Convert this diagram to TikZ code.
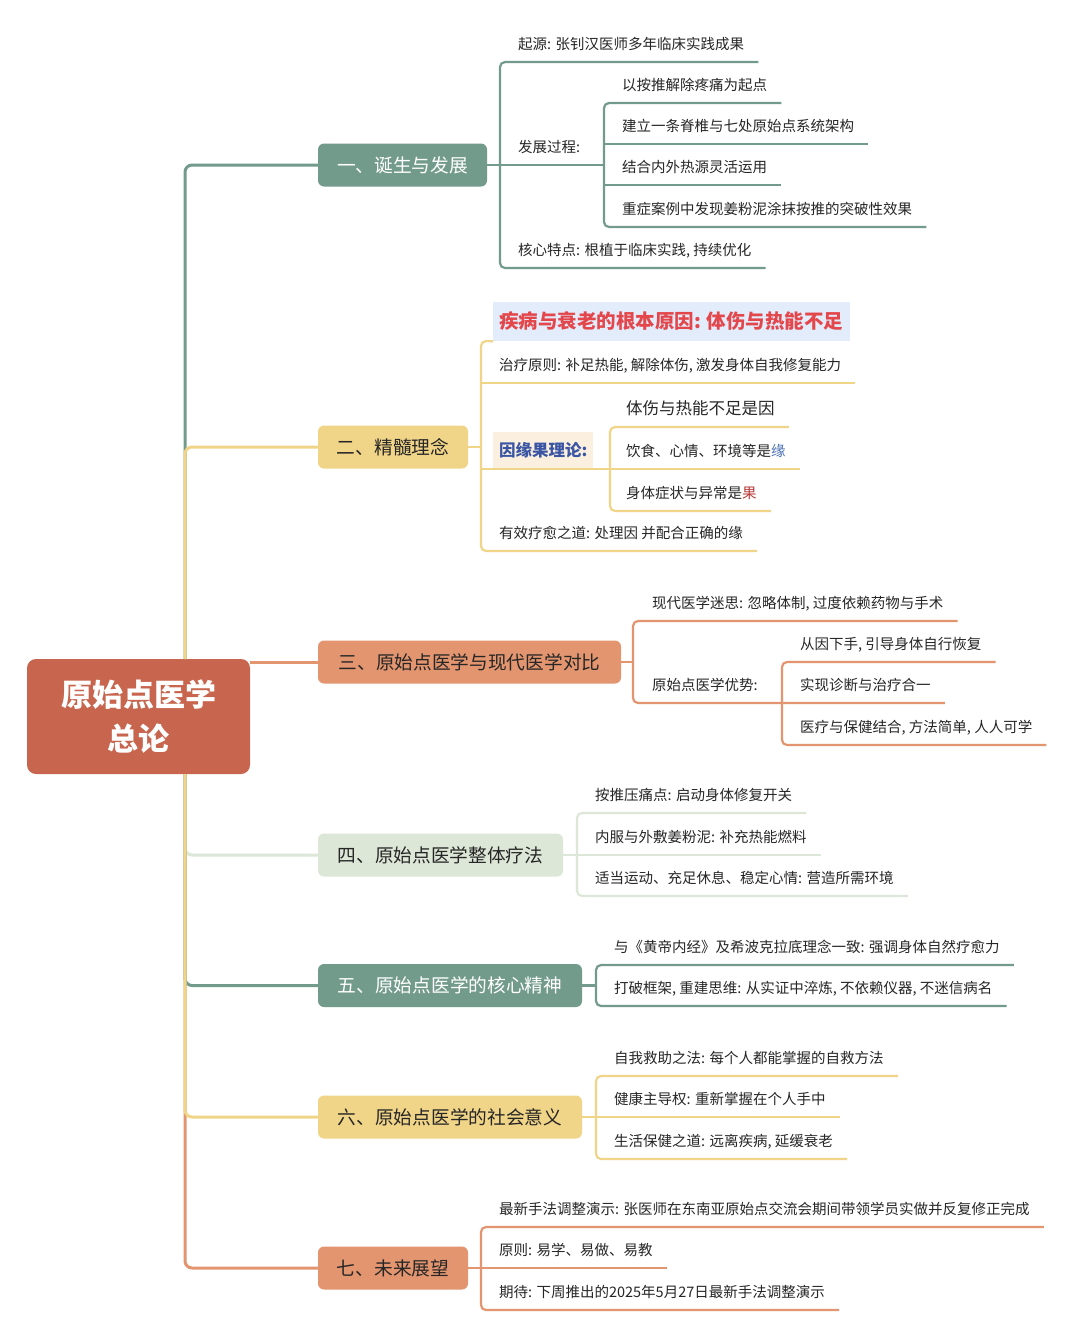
\documentclass[tikz,border=0pt]{standalone}
\usepackage{fontspec}
\setmainfont{Noto Sans CJK SC}
\usetikzlibrary{calc}
\definecolor{cgreen}{HTML}{739B8C}
\definecolor{cyellow}{HTML}{F0D488}
\definecolor{corange}{HTML}{E3956F}
\definecolor{clgreen}{HTML}{DDE7D7}
\definecolor{croot}{HTML}{C8654E}
\definecolor{hlblue}{HTML}{E2ECFB}
\definecolor{hlred}{HTML}{E4474B}
\definecolor{cream}{HTML}{FBF0DF}
\definecolor{yblue}{HTML}{3A55A4}
\definecolor{kblue}{HTML}{4A6FB5}
\definecolor{kred}{HTML}{B83A3A}
\definecolor{ink}{HTML}{262626}
\begin{document}
\begin{tikzpicture}[x=1pt,y=-1pt,
  txt/.style={anchor=west, inner sep=0pt, text height=12pt, text depth=1pt, font=\fontsize{14.5}{17}\selectfont, text=ink},
  bigtxt/.style={anchor=west, inner sep=0pt, text height=13.7pt, text depth=1.2pt, font=\fontsize{16.5}{19}\selectfont, text=ink},
  topic/.style={rounded corners=6pt, minimum height=43pt, inner sep=0pt, text height=15.5pt, text depth=1.3pt, font=\fontsize{18.7}{21}\selectfont, text=ink},
  ln/.style={line width=2.2pt},
  br/.style={line width=2.2pt, rounded corners=5pt},
  trunk/.style={line width=3pt, rounded corners=7pt},
]
\useasboundingbox (0,0) rectangle (1080,1336);
\fill[white] (0,0) rectangle (1080,1336);

% ---------- root and topics ----------
\node[fill=croot, rounded corners=9pt, minimum width=223pt, minimum height=115pt, inner sep=0pt, align=center, text=white, font=\fontsize{31}{44}\selectfont\bfseries] (root) at (138.5,716.5) {原始点医学\\总论};

\node[topic, fill=cgreen, text=white, minimum width=169pt] (t1) at (402.5,165) {一、诞生与发展};
\node[topic, fill=cyellow, minimum width=150pt] (t2) at (393,447) {二、精髓理念};
\node[topic, fill=corange, minimum width=303pt] (t3) at (469.5,662) {三、原始点医学与现代医学对比};
\node[topic, fill=clgreen, minimum width=245pt] (t4) at (440.5,855) {四、原始点医学整体疗法};
\node[topic, fill=cgreen, text=white, minimum width=264pt] (t5) at (450,985.5) {五、原始点医学的核心精神};
\node[topic, fill=cyellow, minimum width=264pt] (t6) at (450,1117) {六、原始点医学的社会意义};
\node[topic, fill=corange, minimum width=150pt] (t7) at (393,1268) {七、未来展望};

% ---------- trunk ----------
\coordinate (up) at (185,659);
\coordinate (dn) at (185,774);
\draw[trunk, cgreen] (up) -- (up |- t1.west) -- (t1.west);
\draw[trunk, cyellow] (up) -- (up |- t2.west) -- (t2.west);
\draw[line width=3pt, corange] (root.east |- t3.west) -- (t3.west);
\draw[trunk, corange] (dn) -- (dn |- t7.west) -- (t7.west);
\draw[trunk, clgreen] (dn) -- (dn |- t4.west) -- (t4.west);
\draw[trunk, cgreen] (dn) -- (dn |- t5.west) -- (t5.west);
\draw[trunk, cyellow] (dn) -- (dn |- t6.west) -- (t6.west);

% ---------- section 1 ----------
\node[txt] (a1) at (518,43.5) {起源: 张钊汉医师多年临床实践成果};
\node[txt] (a2) at (518,146.5) {发展过程:};
\node[txt] (a3) at (518,249.5) {核心特点: 根植于临床实践, 持续优化};
\node[txt] (b1) at (622,84.5) {以按推解除疼痛为起点};
\node[txt] (b2) at (622,125.5) {建立一条脊椎与七处原始点系统架构};
\node[txt] (b3) at (622,166.5) {结合内外热源灵活运用};
\node[txt] (b4) at (622,208.5) {重症案例中发现姜粉泥涂抹按推的突破性效果};
\draw[br, cgreen] ($(a1.east)+(14,18.5)$) -- (500,62) -- (500,268) -- ($(a3.east)+(14,18.5)$);
\draw[ln, cgreen] (t1.east) -- (604,165);
\draw[br, cgreen] ($(b1.east)+(14,18.5)$) -- (604,103) -- (604,227) -- ($(b4.east)+(14,18.5)$);
\draw[ln, cgreen] (604,144) -- ($(b2.east)+(14,18.5)$);
\draw[ln, cgreen] (604,185) -- ($(b3.east)+(14,18.5)$);

% ---------- section 2 ----------
\node[anchor=west, fill=hlblue, inner xsep=6pt, inner ysep=0pt, minimum height=39pt, text height=16.2pt, text depth=1.4pt, font=\fontsize{19.5}{22}\selectfont\bfseries, text=hlred] (hl) at (493,321.5) {疾病与衰老的根本原因: 体伤与热能不足};
\node[txt] (c1) at (499,364.5) {治疗原则: 补足热能, 解除体伤, 激发身体自我修复能力};
\node[anchor=west, fill=cream, inner xsep=6pt, inner ysep=0pt, minimum height=37pt, text height=13.7pt, text depth=1.2pt, font=\fontsize{16.5}{19}\selectfont\bfseries, text=yblue] (yy) at (493,450.5) {因缘果理论:};
\node[txt] (c3) at (499,532.5) {有效疗愈之道: 处理因 并配合正确的缘};
\node[bigtxt] (d1) at (626,408.5) {体伤与热能不足是因};
\node[txt] (d2) at (626,450.5) {饮食、心情、环境等是\textcolor{kblue}{缘}};
\node[txt] (d3) at (626,492.5) {身体症状与异常是\textcolor{kred}{果}};
\draw[br, cyellow] (hl.south west) -- (481,341) -- (481,551) -- ($(c3.east)+(14,18.5)$);
\draw[ln, cyellow] (t2.east) -- (481,447);
\draw[ln, cyellow] (481,383) -- ($(c1.east)+(14,18.5)$);
\draw[ln, cyellow] (481,469) -- ($(d2.east)+(14,18.5)$);
\draw[br, cyellow] ($(d1.east)+(14,18.5)$) -- (610,427) -- (610,511) -- ($(d3.east)+(14,18.5)$);

% ---------- section 3 ----------
\node[txt] (e1) at (652,602.5) {现代医学迷思: 忽略体制, 过度依赖药物与手术};
\node[txt] (e2) at (652,684.5) {原始点医学优势:};
\node[txt] (f1) at (800,643.5) {从因下手, 引导身体自行恢复};
\node[txt] (f2) at (800,684.5) {实现诊断与治疗合一};
\node[txt] (f3) at (800,726.5) {医疗与保健结合, 方法简单, 人人可学};
\draw[ln, corange] (t3.east) -- (633,662);
\draw[br, corange] ($(e1.east)+(14,18.5)$) -- (633,621) -- (633,703) -- ($(f2.east)+(14,18.5)$);
\draw[br, corange] ($(f1.east)+(14,18.5)$) -- (782,662) -- (782,745) -- ($(f3.east)+(14,18.5)$);

% ---------- section 4 ----------
\node[txt] (g1) at (595,794.5) {按推压痛点: 启动身体修复开关};
\node[txt] (g2) at (595,836.5) {内服与外敷姜粉泥: 补充热能燃料};
\node[txt] (g3) at (595,877.5) {适当运动、充足休息、稳定心情: 营造所需环境};
\draw[ln, clgreen] (t4.east) -- ($(g2.east)+(14,18.5)$);
\draw[br, clgreen] ($(g1.east)+(14,18.5)$) -- (577,813) -- (577,896) -- ($(g3.east)+(14,18.5)$);

% ---------- section 5 ----------
\node[txt] (h1) at (614,946.5) {与《黄帝内经》及希波克拉底理念一致: 强调身体自然疗愈力};
\node[txt] (h2) at (614,987.5) {打破框架, 重建思维: 从实证中淬炼, 不依赖仪器, 不迷信病名};
\draw[ln, cgreen] (t5.east) -- (596,985.5);
\draw[br, cgreen] ($(h1.east)+(14,18.5)$) -- (596,965) -- (596,1006) -- ($(h2.east)+(14,18.5)$);

% ---------- section 6 ----------
\node[txt] (i1) at (614,1057.5) {自我救助之法: 每个人都能掌握的自救方法};
\node[txt] (i2) at (614,1098.5) {健康主导权: 重新掌握在个人手中};
\node[txt] (i3) at (614,1140.5) {生活保健之道: 远离疾病, 延缓衰老};
\draw[ln, cyellow] (t6.east) -- ($(i2.east)+(14,18.5)$);
\draw[br, cyellow] ($(i1.east)+(14,18.5)$) -- (596,1076) -- (596,1159) -- ($(i3.east)+(14,18.5)$);

% ---------- section 7 ----------
\node[txt] (j1) at (499,1208.5) {最新手法调整演示: 张医师在东南亚原始点交流会期间带领学员实做并反复修正完成};
\node[txt] (j2) at (499,1249.5) {原则: 易学、易做、易教};
\node[txt] (j3) at (499,1291.5) {期待: 下周推出的2025年5月27日最新手法调整演示};
\draw[ln, corange] (t7.east) -- ($(j2.east)+(14,18.5)$);
\draw[br, corange] ($(j1.east)+(14,18.5)$) -- (481,1227) -- (481,1310) -- ($(j3.east)+(14,18.5)$);
\end{tikzpicture}
\end{document}
